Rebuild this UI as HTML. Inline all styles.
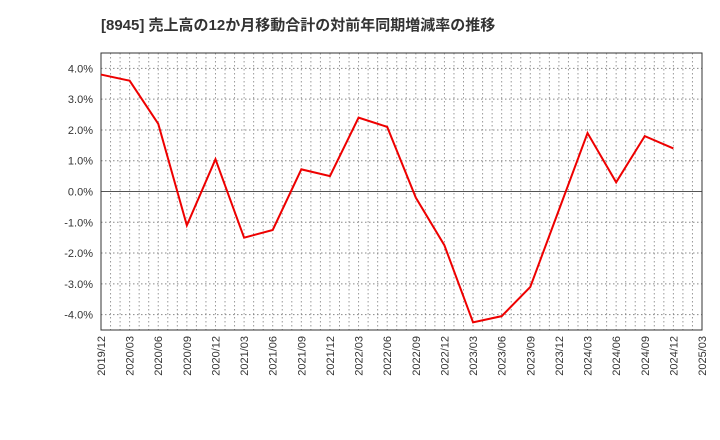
<!DOCTYPE html>
<html><head><meta charset="utf-8"><style>body{margin:0;background:#fff;}svg{display:block;font-family:"Liberation Sans","Noto Sans CJK JP",sans-serif;}</style></head>
<body>
<svg id="c" width="720" height="440">
<text x="101" y="30" font-size="15" font-weight="bold" fill="#333">[8945]  売上高の12か月移動合計の対前年同期増減率の推移</text>
<g id="grid"></g><g id="axes"></g><g id="series"></g>
</svg>
<script>
const categories=["2019/12","2020/03","2020/06","2020/09","2020/12","2021/03","2021/06","2021/09","2021/12","2022/03","2022/06","2022/09","2022/12","2023/03","2023/06","2023/09","2023/12","2024/03","2024/06","2024/09","2024/12","2025/03"];
const values=[3.8,3.6,2.2,-1.1,1.05,-1.5,-1.25,0.72,0.5,2.4,2.1,-0.2,-1.75,-4.25,-4.05,-3.1,-0.6,1.9,0.3,1.8,1.4];
const yTicks=[4,3,2,1,0,-1,-2,-3,-4];
const NS="http://www.w3.org/2000/svg";
const L=101,R=702,T=53,B=330,yMin=-4.5,yMax=4.5;
const xs=i=>L+(R-L)*i/(categories.length-1);
const ys=v=>T+(yMax-v)/(yMax-yMin)*(B-T);
function mk(tag,attrs,parent){const e=document.createElementNS(NS,tag);for(const k in attrs)e.setAttribute(k,attrs[k]);document.getElementById(parent).appendChild(e);return e;}
const nM=(categories.length-1)*3;
for(let m=1;m<nM;m++){const x=L+(R-L)*m/nM;
const l=mk('line',{x1:x,x2:x,y1:T,y2:B,stroke:'#999','stroke-dasharray':'1.5,2.5','stroke-width':1},'grid');

}
yTicks.forEach(v=>{const y=ys(v);
const l=mk('line',{x1:L,x2:R,y1:y,y2:y,stroke:v===0?'#555':'#888','stroke-dasharray':v===0?'none':'1.5,2.5','stroke-width':1},'grid');


const t=mk('text',{x:L-8,y:y+4,'text-anchor':'end','font-size':11,fill:'#333'},'axes');t.textContent=v.toFixed(1)+'%';

});
const f=mk('rect',{x:L,y:T,width:R-L,height:B-T,fill:'none',stroke:'#333','stroke-width':1},'axes');


categories.forEach((c,i)=>{const x=xs(i)+4;
const t=mk('text',{x:x,y:B+6,'text-anchor':'end','font-size':11,fill:'#333',transform:`rotate(-90 ${x} ${B+6})`},'axes');t.textContent=c;

});
const p=mk('polyline',{points:values.map((v,i)=>xs(i)+','+ys(v)).join(' '),fill:'none',stroke:'#e00','stroke-width':2},'series');


</script>
</body></html>
